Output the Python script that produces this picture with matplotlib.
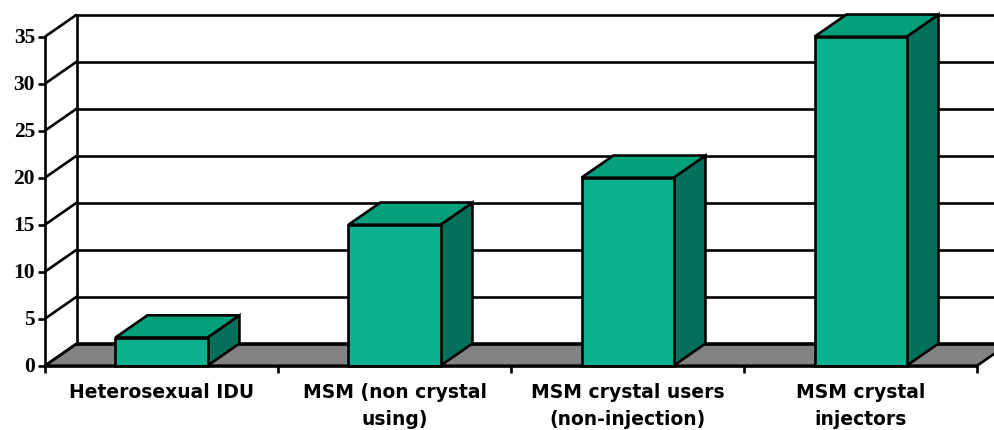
import matplotlib
matplotlib.use("Agg")
import matplotlib.pyplot as plt
from matplotlib.patches import Polygon

# Data
categories = ["Heterosexual IDU", "MSM (non crystal\nusing)",
              "MSM crystal users\n(non-injection)", "MSM crystal\ninjectors"]
values = [3, 15, 20, 35]
y_ticks = [0, 5, 10, 15, 20, 25, 30, 35]

# 3-D look: depth offset expressed in data units
DX = 0.137          # horizontal shift (category units)
DY = 2.36           # vertical shift (value units)
BAR_W = 0.395
YMAX = 35

FRONT = "#0bb08f"
TOP = "#04a07b"
SIDE = "#02705a"
FLOOR = "#808284"
LW = 1.9

fig = plt.figure(figsize=(9.95, 4.31), dpi=100)
ax = fig.add_axes([0, 0, 1, 1])
n = len(categories)
ax.set_xlim(-0.193, 4.077)
ax.set_ylim(-6.84, 39.01)
ax.axis("off")

# Floor
floor = Polygon([(0, 0), (n, 0), (n + DX, DY), (DX, DY)], closed=True,
                facecolor=FLOOR, edgecolor="black", lw=LW, zorder=1,
                joinstyle="miter")
ax.add_patch(floor)

# Back wall gridlines and left wall slants
for t in y_ticks:
    ax.plot([DX, n + DX + 0.2], [t + DY, t + DY], color="black", lw=LW,
            zorder=2, solid_capstyle="butt")
    ax.plot([0, DX], [t, t + DY], color="black", lw=LW, zorder=2,
            solid_capstyle="butt")
ax.plot([DX, DX], [DY, YMAX + DY], color="black", lw=LW, zorder=2)
ax.plot([0, 0], [0, YMAX], color="black", lw=LW, zorder=5)

# Axis ticks
tick_len_x = 7 / 233
for t in y_ticks:
    ax.plot([-tick_len_x, 0], [t, t], color="black", lw=LW, zorder=5,
            solid_capstyle="butt")
    ax.text(-0.043, t, str(t), ha="right", va="center", fontsize=15.5,
            fontweight="bold", family="Liberation Serif", zorder=6)
for i in range(n + 1):
    ax.plot([i, i], [0, -0.75], color="black", lw=LW, zorder=5,
            solid_capstyle="butt")
ax.plot([0, n], [0, 0], color="black", lw=LW, zorder=5)

# Bars
for i, v in enumerate(values):
    c = i + 0.5
    x0, x1 = c - BAR_W / 2, c + BAR_W / 2
    front = Polygon([(x0, 0), (x1, 0), (x1, v), (x0, v)], closed=True,
                    facecolor=FRONT, edgecolor="black", lw=LW, zorder=4,
                    joinstyle="miter")
    top = Polygon([(x0, v), (x1, v), (x1 + DX, v + DY), (x0 + DX, v + DY)],
                  closed=True, facecolor=TOP, edgecolor="black", lw=LW,
                  zorder=4, joinstyle="miter")
    side = Polygon([(x1, 0), (x1 + DX, DY), (x1 + DX, v + DY), (x1, v)],
                   closed=True, facecolor=SIDE, edgecolor="black", lw=LW,
                   zorder=4, joinstyle="miter")
    for p in (side, top, front):
        ax.add_patch(p)
    ax.text(c, -1.75, categories[i], ha="center", va="top", fontsize=13.5,
            fontweight="bold", family="DejaVu Sans", linespacing=1.5,
            zorder=6)

fig.savefig("out.png", dpi=100)
